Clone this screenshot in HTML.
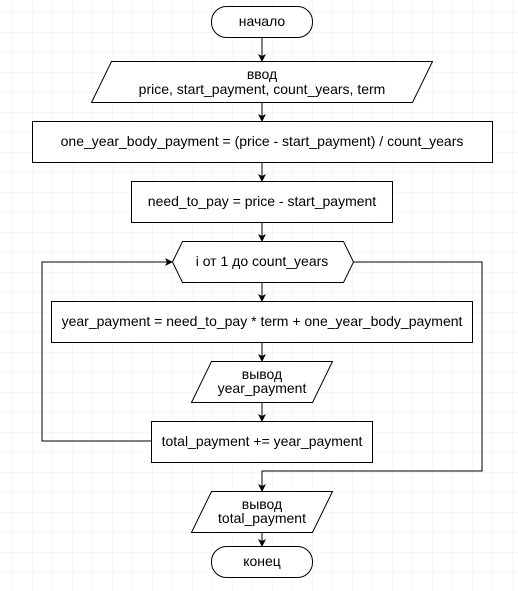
<!DOCTYPE html><html><head><meta charset="utf-8"><style>body{margin:0;background:#fff}svg{display:block}text{font-family:"Liberation Sans",sans-serif;font-size:14px;text-anchor:middle}</style></head><body>
<svg width="518" height="591" viewBox="0 0 518 591">
<defs><pattern id="g" x="12" y="12" width="20" height="20" patternUnits="userSpaceOnUse"><path d="M0 0H20M0 0V20" stroke="#ececec" stroke-width="1" fill="none"/></pattern>
<marker id="a" markerWidth="8" markerHeight="8" refX="7" refY="4" orient="auto" markerUnits="userSpaceOnUse"><path d="M0 0L8 4L0 8L2 4z" fill="#000"/></marker></defs>
<rect width="518" height="591" fill="url(#g)"/>
<g stroke="#000" fill="none" stroke-width="1">
<path d="M262 37V61" marker-end="url(#a)"/>
<path d="M262 102V121" marker-end="url(#a)"/>
<path d="M262 162V181" marker-end="url(#a)"/>
<path d="M262 222V241" marker-end="url(#a)"/>
<path d="M262 282V301" marker-end="url(#a)"/>
<path d="M262 342V361" marker-end="url(#a)"/>
<path d="M262 402V421" marker-end="url(#a)"/>
<path d="M262 532V546" marker-end="url(#a)"/>
<path d="M151 441H42V262H172" marker-end="url(#a)"/>
<path d="M353 262H482V471H262V491" marker-end="url(#a)"/>
</g>
<g stroke="#000" fill="#fff" stroke-width="1">
<rect x="211.5" y="6.5" width="101" height="31" rx="15"/>
<path d="M111.5 61.5H432.5L412.5 102.5H91.5Z"/>
<rect x="32.5" y="121.5" width="460" height="41"/>
<rect x="131.5" y="181.5" width="261" height="41"/>
<path d="M182.5 241.5H343.5L353.5 262L343.5 282.5H182.5L172.5 262Z"/>
<rect x="51.5" y="301.5" width="421" height="41"/>
<path d="M211.5 361.5H332.5L312.5 402.5H191.5Z"/>
<rect x="151.5" y="421.5" width="221" height="41"/>
<path d="M211.5 491.5H332.5L312.5 532.5H191.5Z"/>
<rect x="211.5" y="546.5" width="101" height="31" rx="15"/>
</g>
<g fill="#000">
<text x="262" y="26">начало</text>
<text x="262" y="79">ввод</text>
<text x="262" y="94">price, start_payment, count_years, term</text>
<text x="262" y="146">one_year_body_payment = (price - start_payment) / count_years</text>
<text x="262" y="206">need_to_pay = price - start_payment</text>
<text x="262" y="266">i от 1 до count_years</text>
<text x="262" y="326">year_payment = need_to_pay * term + one_year_body_payment</text>
<text x="262" y="379">вывод</text>
<text x="262" y="393">year_payment</text>
<text x="262" y="446">total_payment += year_payment</text>
<text x="262" y="509">вывод</text>
<text x="262" y="523">total_payment</text>
<text x="262" y="566">конец</text>
</g>
</svg></body></html>
